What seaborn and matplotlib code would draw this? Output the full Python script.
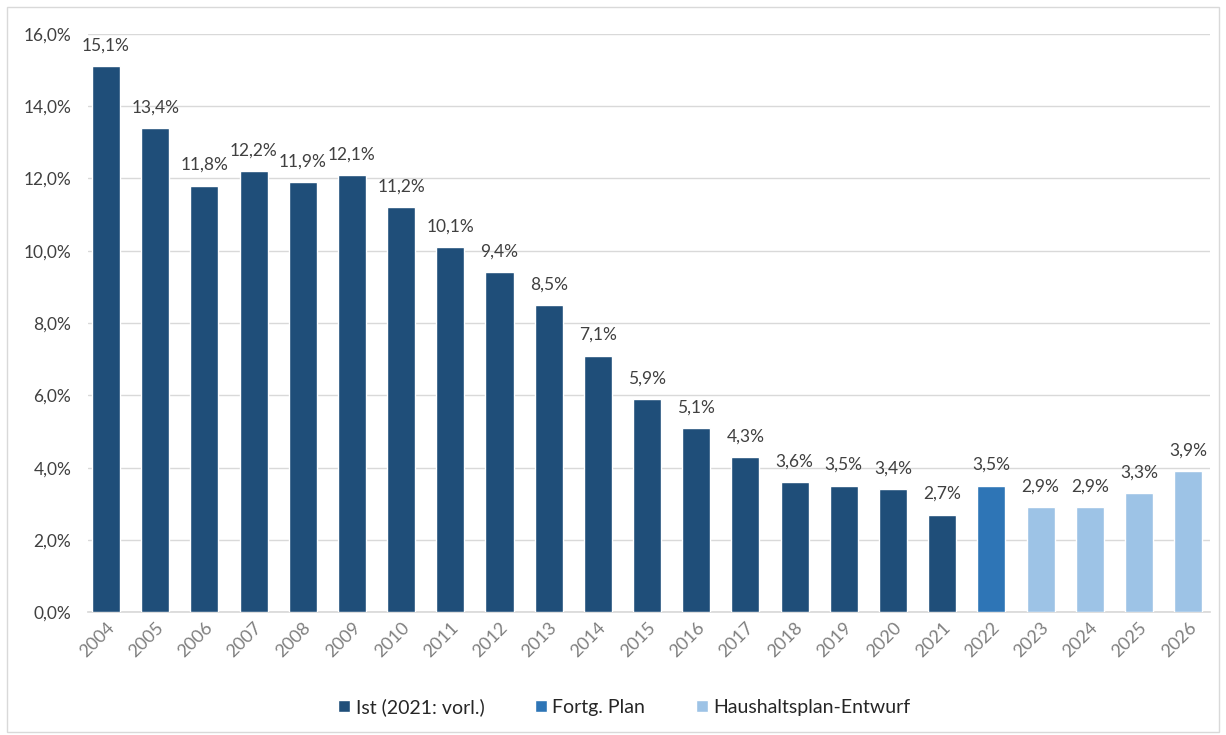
import matplotlib
matplotlib.use("Agg")
import matplotlib.pyplot as plt
from matplotlib.patches import Rectangle
from matplotlib.ticker import FuncFormatter
import seaborn as sns
import pandas as pd

years = [str(y) for y in range(2004, 2027)]
values = [15.1, 13.4, 11.8, 12.2, 11.9, 12.1, 11.2, 10.1, 9.4, 8.5, 7.1, 5.9,
          5.1, 4.3, 3.6, 3.5, 3.4, 2.7, 3.5, 2.9, 2.9, 3.3, 3.9]
series = ["Ist (2021: vorl.)"] * 18 + ["Fortg. Plan"] + ["Haushaltsplan-Entwurf"] * 4
series_order = ["Ist (2021: vorl.)", "Fortg. Plan", "Haushaltsplan-Entwurf"]
series_colors = ["#1f4e79", "#2e75b6", "#9dc3e6"]

df = pd.DataFrame({"Jahr": years, "Wert": values, "Reihe": series})

sns.set_theme(style="white")
plt.rcParams["font.family"] = ["Lato", "DejaVu Sans"]

fig = plt.figure(figsize=(12.26, 7.35), dpi=100)
ax = fig.add_axes([0.0718, 0.167, 0.9152, 0.787])

sns.barplot(data=df, x="Jahr", y="Wert", hue="Reihe", hue_order=series_order,
            palette=series_colors, dodge=False, width=0.57, ax=ax,
            saturation=1, legend=True, zorder=3)

def de_fmt(v, decimals=1):
    return f"{v:.{decimals}f}".replace(".", ",") + "%"

for i, v in enumerate(values):
    ax.text(i, v + 0.35, de_fmt(v), ha="center", va="bottom",
            fontsize=12.5, color="#404040")

ax.set_ylim(0, 16)
ax.set_xlim(-0.366, len(years) - 1 + 0.447)
ax.set_yticks([0, 2, 4, 6, 8, 10, 12, 14, 16])
ax.yaxis.set_major_formatter(FuncFormatter(lambda v, p: de_fmt(v)))
ax.grid(axis="y", color="#d9d9d9", linewidth=1, zorder=0)
ax.set_axisbelow(True)
for s in ["top", "right", "left"]:
    ax.spines[s].set_visible(False)
ax.spines["bottom"].set_color("#d9d9d9")
ax.tick_params(axis="y", labelsize=12.5, labelcolor="#404040", length=0, pad=12)
ax.tick_params(axis="x", labelsize=13, labelcolor="#7f7f7f", length=0, pad=5)
plt.setp(ax.get_xticklabels(), rotation=45, ha="right", rotation_mode="anchor")
ax.set_xlabel("")
ax.set_ylabel("")

handles, labels = ax.get_legend_handles_labels()
ax.legend(handles, labels, loc="upper center", bbox_to_anchor=(0.478, -0.118),
          ncol=3, frameon=False, fontsize=14, handlelength=0.6, handleheight=0.6,
          handletextpad=0.3, columnspacing=2.6, labelcolor="#262626")

fig.patches.append(Rectangle((0.006, 0.004), 0.988, 0.986, transform=fig.transFigure,
                             fill=False, edgecolor="#d9d9d9", linewidth=1))

fig.savefig("out.png", dpi=100)
